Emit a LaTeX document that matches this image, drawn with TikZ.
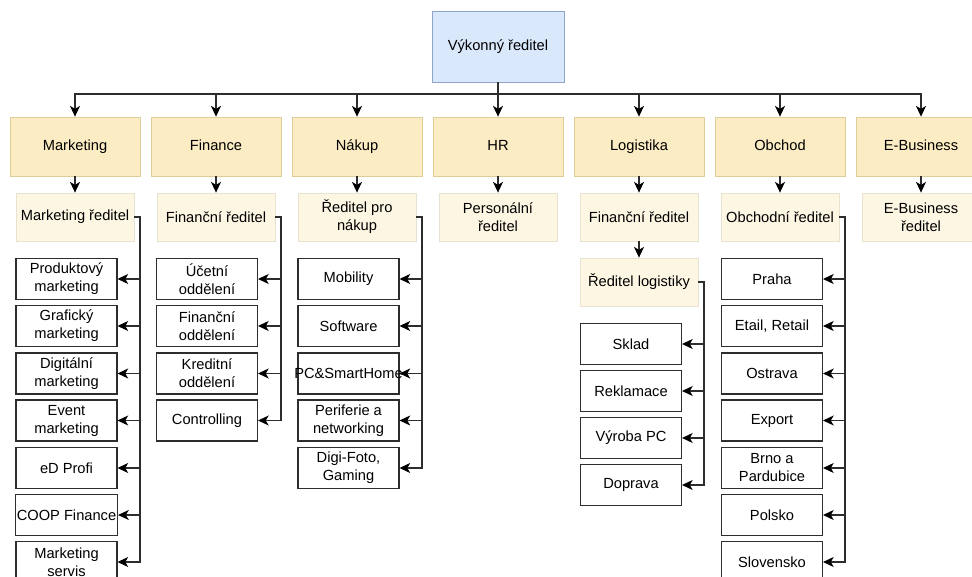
\documentclass[tikz,border=0pt]{standalone}
\usepackage{fontspec}
\setmainfont{Liberation Sans}
\usepackage{tikz}
\usetikzlibrary{arrows.meta, positioning}
\definecolor{mydark}{RGB}{45,45,45}
\definecolor{ceofill}{RGB}{218,232,252}
\definecolor{ceoline}{RGB}{140,165,200}
\definecolor{deptfill}{RGB}{252,236,196}
\definecolor{deptline}{RGB}{222,205,150}
\definecolor{headfill}{RGB}{253,246,227}
\definecolor{headline}{RGB}{232,226,208}
\tikzset{
  ceo/.style={rectangle, draw=ceoline, fill=ceofill,
    minimum width=99pt, minimum height=53.25pt,
    text height=8pt, text depth=2.5pt,
    font=\fontsize{11}{13.5}\selectfont, line width=0.6pt},
  dept/.style={rectangle, draw=deptline, fill=deptfill,
    minimum width=97.5pt, minimum height=44.25pt,
    text height=8pt, text depth=2.5pt,
    font=\fontsize{11}{13.5}\selectfont, line width=0.6pt},
  head/.style={rectangle, draw=headline, fill=headfill,
    minimum width=88.5pt, minimum height=36pt, align=center,
    inner sep=1pt, font=\fontsize{11}{13.5}\selectfont, line width=0.6pt},
  unit/.style={rectangle, draw=mydark, fill=white,
    minimum width=75.75pt, minimum height=30.75pt, align=center,
    inner sep=1pt, font=\fontsize{11}{13.5}\selectfont, line width=0.8pt},
  arrow/.style={-{Stealth[length=8pt, width=7.5pt, inset=2.2pt, color=black]},
    line width=0.85pt, color=mydark}
}

\begin{document}
\begin{tikzpicture}[x=0.75pt, y=-0.75pt]
  \useasboundingbox (0,0) rectangle (972,577);

  % Top
  \node[ceo] (ceo) at (498,46.5) {Výkonný ředitel};

  % Departments
  \node[dept] (mkt)  at (75,146.5)  {Marketing};
  \node[dept] (fin)  at (216,146.5) {Finance};
  \node[dept] (nak)  at (357,146.5) {Nákup};
  \node[dept] (hr)   at (498,146.5) {HR};
  \node[dept] (log)  at (639,146.5) {Logistika};
  \node[dept] (obch) at (780,146.5) {Obchod};
  \node[dept] (ebus) at (921,146.5) {E-Business};

  % Heads
  \node[head] (mkthead)  at (75,217)  {Marketing ředitel};
  \node[head] (finhead)  at (216,217) {Finanční ředitel};
  \node[head] (nakhead)  at (357,217) {Ředitel pro\\nákup};
  \node[head] (hrhead)   at (498,217) {Personální\\ředitel};
  \node[head] (logfin)   at (639,217) {Finanční ředitel};
  \node[head] (loghead)  at (639,282) {Ředitel logistiky};
  \node[head] (obchhead) at (780,217) {Obchodní ředitel};
  \node[head] (ebushead) at (921,217) {E-Business\\ředitel};

  % Marketing units
  \node[unit] (mkt1) at (66.5,279)   {Produktový\\marketing};
  \node[unit] (mkt2) at (66.5,326)   {Grafický\\marketing};
  \node[unit] (mkt3) at (66.5,373.5) {Digitální\\marketing};
  \node[unit] (mkt4) at (66.5,420.5) {Event\\marketing};
  \node[unit] (mkt5) at (66.5,468)   {eD Profi};
  \node[unit] (mkt6) at (66.5,515)   {COOP Finance};
  \node[unit] (mkt7) at (66.5,562)   {Marketing\\servis};

  % Finance units
  \node[unit] (fin1) at (207,279)   {Účetní\\oddělení};
  \node[unit] (fin2) at (207,326)   {Finanční\\oddělení};
  \node[unit] (fin3) at (207,373.5) {Kreditní\\oddělení};
  \node[unit] (fin4) at (207,420.5) {Controlling};

  % Nakup units
  \node[unit] (nak1) at (348.5,279)   {Mobility};
  \node[unit] (nak2) at (348.5,326)   {Software};
  \node[unit] (nak3) at (348.5,373.5) {\makebox[0pt]{PC\&SmartHome}};
  \node[unit] (nak4) at (348.5,420.5) {Periferie a\\networking};
  \node[unit] (nak5) at (348.5,468)   {Digi-Foto,\\Gaming};

  % Logistika units
  \node[unit] (log1) at (631,344) {Sklad};
  \node[unit] (log2) at (631,391) {Reklamace};
  \node[unit] (log3) at (631,438) {Výroba PC};
  \node[unit] (log4) at (631,485) {Doprava};

  % Obchod units
  \node[unit] (obch1) at (772,279)   {Praha};
  \node[unit] (obch2) at (772,326)   {Etail, Retail};
  \node[unit] (obch3) at (772,373.5) {Ostrava};
  \node[unit] (obch4) at (772,420.5) {Export};
  \node[unit] (obch5) at (772,468)   {Brno a\\Pardubice};
  \node[unit] (obch6) at (772,515)   {Polsko};
  \node[unit] (obch7) at (772,562)   {Slovensko};

  % Bus points
  \coordinate (hub) at (498,94);
  \coordinate (mktbus) at (140,217);
  \coordinate (finbus) at (281,217);
  \coordinate (nakbus) at (422,217);
  \coordinate (logbus) at (704,282);
  \coordinate (obchbus) at (845,217);

  % Top to departments
  \draw[arrow] (ceo) -- (hub) -| (mkt);
  \draw[arrow] (ceo) -- (hub) -| (fin);
  \draw[arrow] (ceo) -- (hub) -| (nak);
  \draw[arrow] (hub) -- (hr);
  \draw[arrow] (ceo) -- (hub) -| (log);
  \draw[arrow] (ceo) -- (hub) -| (obch);
  \draw[arrow] (ceo) -- (hub) -| (ebus);

  % Departments to heads
  \draw[arrow] (mkt) -- (mkthead);
  \draw[arrow] (fin) -- (finhead);
  \draw[arrow] (nak) -- (nakhead);
  \draw[arrow] (hr) -- (hrhead);
  \draw[arrow] (log) -- (logfin);
  \draw[arrow] (logfin) -- (loghead);
  \draw[arrow] (obch) -- (obchhead);
  \draw[arrow] (ebus) -- (ebushead);

  % Heads to units
  \draw[arrow] (mkthead.east) -- (mktbus) |- (mkt1);
  \draw[arrow] (mkthead.east) -- (mktbus) |- (mkt2);
  \draw[arrow] (mkthead.east) -- (mktbus) |- (mkt3);
  \draw[arrow] (mkthead.east) -- (mktbus) |- (mkt4);
  \draw[arrow] (mkthead.east) -- (mktbus) |- (mkt5);
  \draw[arrow] (mkthead.east) -- (mktbus) |- (mkt6);
  \draw[arrow] (mkthead.east) -- (mktbus) |- (mkt7);

  \draw[arrow] (finhead.east) -- (finbus) |- (fin1);
  \draw[arrow] (finhead.east) -- (finbus) |- (fin2);
  \draw[arrow] (finhead.east) -- (finbus) |- (fin3);
  \draw[arrow] (finhead.east) -- (finbus) |- (fin4);

  \draw[arrow] (nakhead.east) -- (nakbus) |- (nak1);
  \draw[arrow] (nakhead.east) -- (nakbus) |- (nak2);
  \draw[arrow] (nakhead.east) -- (nakbus) |- (nak3);
  \draw[arrow] (nakhead.east) -- (nakbus) |- (nak4);
  \draw[arrow] (nakhead.east) -- (nakbus) |- (nak5);

  \draw[arrow] (loghead.east) -- (logbus) |- (log1);
  \draw[arrow] (loghead.east) -- (logbus) |- (log2);
  \draw[arrow] (loghead.east) -- (logbus) |- (log3);
  \draw[arrow] (loghead.east) -- (logbus) |- (log4);

  \draw[arrow] (obchhead.east) -- (obchbus) |- (obch1);
  \draw[arrow] (obchhead.east) -- (obchbus) |- (obch2);
  \draw[arrow] (obchhead.east) -- (obchbus) |- (obch3);
  \draw[arrow] (obchhead.east) -- (obchbus) |- (obch4);
  \draw[arrow] (obchhead.east) -- (obchbus) |- (obch5);
  \draw[arrow] (obchhead.east) -- (obchbus) |- (obch6);
  \draw[arrow] (obchhead.east) -- (obchbus) |- (obch7);
\end{tikzpicture}
\end{document}
